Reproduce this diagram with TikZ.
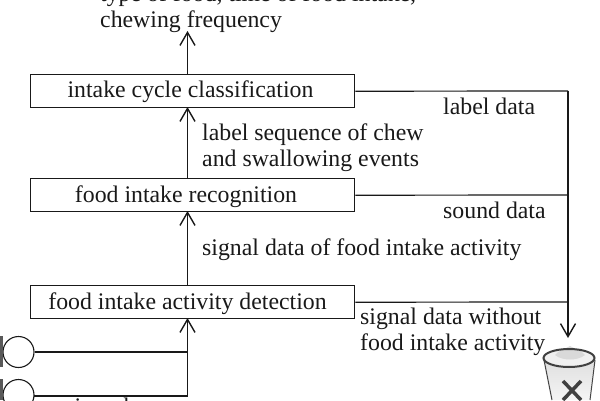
\documentclass[tikz,border=0pt]{standalone}
\usepackage{fontspec}
\setmainfont{Liberation Serif}
\usetikzlibrary{arrows.meta}
\definecolor{ink}{gray}{0.1}
\tikzset{
 px/.style={x=1pt,y=-1pt},
 boxn/.style={draw=ink,line width=1.4pt,inner sep=0pt,anchor=north west,minimum width=324pt,minimum height=33pt},
 boxt/.style={text=ink,font=\fontsize{23.8}{24}\selectfont,inner sep=0pt,anchor=base},
 txt/.style={text=ink,font=\fontsize{23.8}{24}\selectfont,inner sep=0pt,anchor=base west},
 ln/.style={draw=ink,line width=1.2pt},
 flow/.style={draw=ink,line width=1.4pt,-{Straight Barb[length=13pt,width=15pt,line width=1.4pt]}},
 mic/.style={draw=ink,circle,line width=1.1pt,minimum size=31pt,inner sep=0pt,fill=white},
}
\begin{document}
\begin{tikzpicture}[px]
\useasboundingbox (0,0) rectangle (600,400);
\clip (0,0) rectangle (600,400);
\fill[white] (0,0) rectangle (600,400);
\node[boxn] (cyc) at (30,74) {};
\node[boxt] at (190.5,97) {intake cycle classification};
\node[boxn] (rec) at (30,178) {};
\node[boxt] at (186,202) {food intake recognition};
\node[boxn] (det) at (30,285) {};
\node[boxt] at (187.5,309) {food intake activity detection};
\coordinate (top) at (187.5,31);
\coordinate (cycb) at (187.5,107);
\coordinate (cyct) at (187.5,74);
\coordinate (recb) at (187.5,211);
\coordinate (rect) at (187.5,178);
\coordinate (detb) at (187.5,318);
\coordinate (dett) at (187.5,285);
\draw[flow] (cyct) -- (top);
\draw[flow] (rect) -- (cycb);
\draw[flow] (dett) -- (recb);
\node[txt] at (100,1) {type of food, time of food intake,};
\node[txt] at (100,27) {chewing frequency};
\node[txt] (t1) at (202,140) {label sequence of chew};
\node[txt] (t2) at (202,166) {and swallowing events};
\node[txt] (t3) at (202,255) {signal data of food intake activity};
\node[txt] (t4) at (443,114) {label data};
\node[txt] (t5) at (443,218) {sound data};
\node[txt] (t6) at (360,324) {signal data without};
\node[txt] (t7) at (360,350) {food intake activity};
\coordinate (corner) at (568,91);
\coordinate (arrowend) at (568,338);
\draw[ln] (cyc.east) -- (corner);
\draw[ln] (rec.east) -- (568,195);
\draw[ln] (det.east) -- (568,302);
\draw[ln,-{Straight Barb[length=13pt,width=15pt,line width=1.4pt]}] (corner) -- (arrowend);
% microphones
\node[mic] (m1) at (18.5,352) {};
\node[mic] (m2) at (18.5,395) {};
\fill[gray!70!black] (0,336) rectangle (3,367);
\fill[gray!70!black] (0,379) rectangle (3,400);
\coordinate (j1) at (187.5,352);
\coordinate (j2) at (187.5,396);
\draw[ln] (m1.east) -- (j1);
\draw[flow,rounded corners=0pt] (34,396) -- (j2) -- (detb);
\node[txt] at (56,414) {microphones};
% bin
\shade[top color=gray!25,bottom color=gray!8] (544,360) -- (595,360) -- (590,400) -- (552,400) -- cycle;
\draw[gray!55!black,line width=1pt] (544,360) -- (552,400) (595,360) -- (590,400);
\fill[gray!12] (569,358) ellipse (25.5 and 9);
\fill[gray!30] (555,355) .. controls (559,350) and (565,349) .. (570,346) .. controls (575,349) and (581,350) .. (585,355) .. controls (578,361) and (562,361) .. (555,355) -- cycle;
\draw[gray!50!black,line width=2pt] (569,358) ellipse (25.5 and 9);
\draw[gray!50!black,line width=3.5pt] (563,381) -- (581,400) (581,381) -- (563,400);
\end{tikzpicture}
\end{document}
